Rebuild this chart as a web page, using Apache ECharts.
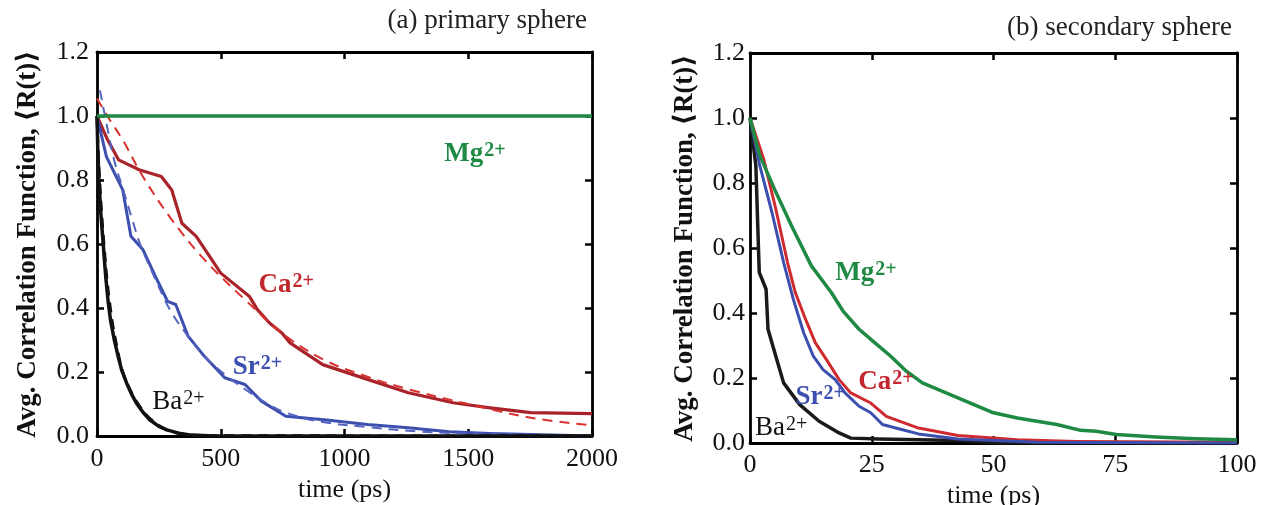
<!DOCTYPE html>
<html>
<head>
<meta charset="utf-8">
<script src="https://cdn.jsdelivr.net/npm/echarts@6/dist/echarts.min.js"></script>
<style>
  html, body { margin: 0; padding: 0; background: #fff; }
  #chart { width: 1262px; height: 505px; }
</style>
</head>
<body>
<div id="chart"></div>
<script>
// ---- (a) primary hydration sphere: [time ps, <R(t)>] ----
const mgPrimary = [[0, 1.0], [500, 1.0], [1000, 1.0], [1500, 1.0], [2000, 1.0]];
const caPrimary = [[0, 1.0], [40, 0.93], [87, 0.863], [170, 0.832], [260, 0.811], [302, 0.769], [343, 0.665], [401, 0.624],
  [500, 0.509], [615, 0.437], [648, 0.395], [697, 0.353], [747, 0.322], [780, 0.291], [912, 0.223],
  [1093, 0.177], [1258, 0.135], [1439, 0.104], [1588, 0.088], [1753, 0.073], [2000, 0.070]];
const caPrimaryFit = [[0, 1.055], [50, 0.99], [104, 0.925], [186, 0.81], [302, 0.676], [434, 0.551], [598, 0.426],
  [763, 0.312], [928, 0.234], [1093, 0.185], [1258, 0.146], [1505, 0.099], [1753, 0.057], [2000, 0.033]];
const srPrimary = [[0, 1.0], [38, 0.873], [104, 0.769], [137, 0.624], [186, 0.582], [236, 0.499], [285, 0.421],
  [318, 0.411], [368, 0.312], [434, 0.249], [516, 0.182], [598, 0.161], [664, 0.109], [763, 0.062],
  [928, 0.050], [1093, 0.036], [1258, 0.026], [1423, 0.0135], [1588, 0.008], [2000, 0.0]];
const srPrimaryFit = [[12, 1.08], [40, 0.97], [70, 0.86], [106, 0.769], [147, 0.665], [174, 0.60], [230, 0.50],
  [295, 0.394], [360, 0.32], [434, 0.249], [520, 0.19], [598, 0.146], [680, 0.105], [763, 0.073],
  [900, 0.045], [1093, 0.028], [1300, 0.014], [1600, 0.006], [2000, 0.0]];
const baPrimary = [[0, 1.0], [3, 0.9], [8, 0.8], [15, 0.7], [25, 0.6], [35, 0.5], [45, 0.42], [55, 0.36], [70, 0.3],
  [85, 0.25], [100, 0.205], [120, 0.165], [140, 0.13], [160, 0.102], [185, 0.075], [214, 0.05], [250, 0.03],
  [282, 0.019], [330, 0.009], [376, 0.003], [450, 0.001], [600, 0.0], [2000, 0.0]];
const baPrimaryFit = [[0, 1.0], [5, 0.88], [12, 0.78], [20, 0.68], [30, 0.58], [40, 0.49], [52, 0.41], [65, 0.34],
  [80, 0.28], [100, 0.21], [130, 0.15], [170, 0.095], [220, 0.05], [280, 0.02], [350, 0.006], [450, 0.001], [2000, 0.0]];

// ---- (b) secondary hydration sphere: [time ps, <R(t)>] ----
const mgSecondary = [[0, 1.0], [2, 0.885], [5.3, 0.772], [8.5, 0.669], [12.6, 0.545], [16.7, 0.463], [19.1, 0.406],
  [22.4, 0.35], [25.6, 0.309], [28.9, 0.267], [32.1, 0.221], [35.4, 0.185], [42.7, 0.139], [50, 0.093],
  [54.9, 0.077], [63, 0.057], [67.9, 0.039], [71.1, 0.036], [75.2, 0.026], [83.3, 0.0185], [91.5, 0.013], [100, 0.010]];
const caSecondary = [[0, 1.0], [2.8, 0.874], [5.3, 0.72], [7.7, 0.556], [9.3, 0.463], [11.4, 0.381], [13.4, 0.309],
  [15.9, 0.252], [18.3, 0.195], [20.7, 0.154], [24.8, 0.123], [28, 0.082], [34.6, 0.046], [42.7, 0.023],
  [54.9, 0.010], [67, 0.005], [100, 0.002]];
const srSecondary = [[0, 1.0], [2, 0.854], [4.5, 0.71], [6.9, 0.556], [8.9, 0.442], [11, 0.34], [13, 0.267],
  [15, 0.226], [17.5, 0.195], [19.5, 0.154], [22.4, 0.113], [24.8, 0.093], [27.2, 0.057], [31.3, 0.041],
  [34.6, 0.028], [42.7, 0.012], [59, 0.002], [100, 0.0]];
const baSecondary = [[0, 1.0], [1.2, 0.854], [1.9, 0.525], [3.3, 0.473], [3.7, 0.35], [5.3, 0.267], [6.9, 0.185],
  [10.2, 0.118], [14.2, 0.067], [18.3, 0.031], [20.7, 0.015], [26.4, 0.012], [42.7, 0.008], [50.8, 0.0], [100, 0.0]];

// ---- ion labels: [time, value] anchor and text ----
const ionNames = ['Mg', 'Ca', 'Sr', 'Ba'];
const labelPosPrimary = [[1527, 0.88], [764, 0.472], [648, 0.216], [329, 0.106]];
const labelPosSecondary = [[23.8, 0.523], [27.9, 0.188], [14.4, 0.142], [6.4, 0.046]];

// ---- axis ticks ----
const xTicksPrimary = { min: 0, max: 2000, interval: 500 };
const xTicksSecondary = { min: 0, max: 100, interval: 25 };
const yTicks = { min: 0, max: 1.2, interval: 0.2 };

const panelTitles = ['(a) primary sphere', '(b) secondary sphere'];
const yName = 'Avg. Correlation Function, \u27E8R(t)\u27E9';
const xName = 'time (ps)';

const SERIF = '"Liberation Serif", "DejaVu Serif", serif';
const COL = {
  mg: '#1f8a43', caDark: '#a8232a', caFit: '#d8322f', caB: '#cf2a2f',
  sr: '#3c4fae', srFit: '#5363bf', ba: '#111111'
};
const ionColors = [COL.mg, '#c1272d', COL.sr, '#111'];
const ionWeights = ['bold', 'bold', 'bold', 'normal'];

// fixed plot rectangles; labels may sit outside without shrinking the grid
const grids = [
  { left: 97, top: 52, width: 495, height: 384, containLabel: false, outerBoundsMode: 'none' },
  { left: 750, top: 53, width: 487, height: 390, containLabel: false, outerBoundsMode: 'none' }
];

function xAxisPair(gi, ticks, labelMargin, nameGap) {
  const common = {
    type: 'value', gridIndex: gi, min: ticks.min, max: ticks.max, interval: ticks.interval,
    axisLine: { show: true, onZero: false, lineStyle: { color: '#000', width: 2.8 } },
    axisTick: { show: true, inside: true, length: 7, lineStyle: { color: '#000', width: 2.5 } },
    splitLine: { show: false }
  };
  return [
    Object.assign({}, common, {
      position: 'bottom',
      axisLabel: { show: true, margin: labelMargin, color: '#111', fontFamily: SERIF, fontSize: 26,
        formatter: v => String(v) },
      name: xName, nameLocation: 'middle', nameGap: nameGap,
      nameTextStyle: { color: '#111', fontFamily: SERIF, fontSize: 26 }
    }),
    Object.assign({}, common, { position: 'top', axisLabel: { show: false } })
  ];
}

function yAxisPair(gi, labelMargin, nameGap) {
  const common = {
    type: 'value', gridIndex: gi, min: yTicks.min, max: yTicks.max, interval: yTicks.interval,
    axisLine: { show: true, onZero: false, lineStyle: { color: '#000', width: 2.8 } },
    axisTick: { show: true, inside: true, length: 7, lineStyle: { color: '#000', width: 2.5 } },
    splitLine: { show: false }
  };
  return [
    Object.assign({}, common, {
      position: 'left',
      axisLabel: { show: true, margin: labelMargin, color: '#111', fontFamily: SERIF, fontSize: 26,
        formatter: v => v.toFixed(1) },
      name: yName, nameLocation: 'middle', nameGap: nameGap, nameRotate: 90,
      nameTextStyle: { color: '#111', fontFamily: SERIF, fontSize: 27, fontWeight: 'bold' }
    }),
    Object.assign({}, common, { position: 'right', axisLabel: { show: false } })
  ];
}

function line(name, data, xi, yi, color, width, dashed, z) {
  return {
    name, type: 'line', xAxisIndex: xi, yAxisIndex: yi, data,
    showSymbol: false, symbol: 'none', smooth: dashed ? 0.35 : false,
    lineStyle: { color, width, type: dashed ? [10, 7] : 'solid', cap: 'butt', join: 'round' },
    z: z || 2, silent: true, animation: false, clip: true
  };
}

function ionLabels(pos, xi, yi, supSize) {
  return {
    type: 'scatter', xAxisIndex: xi, yAxisIndex: yi, symbolSize: 0, silent: true, animation: false, z: 10,
    itemStyle: { opacity: 1 },
    data: pos.map((p, i) => ({
      value: p,
      label: {
        show: true, position: 'inside', opacity: 1,
        formatter: '{b|' + ionNames[i] + '}{s|2+}',
        rich: {
          b: { fontFamily: SERIF, fontSize: 27, fontWeight: ionWeights[i], color: ionColors[i], verticalAlign: 'bottom', lineHeight: 27 },
          s: { fontFamily: SERIF, fontSize: supSize, fontWeight: ionWeights[i], color: ionColors[i], verticalAlign: 'top', lineHeight: 27, padding: [0, 0, 8, 1] }
        }
      }
    }))
  };
}

const chart = echarts.init(document.getElementById('chart'), null, { renderer: 'canvas' });
const xa = xAxisPair(0, xTicksPrimary, 10, 38).concat(xAxisPair(1, xTicksSecondary, 9, 37));
const ya = yAxisPair(0, 8, 55).concat(yAxisPair(1, 5, 51));

chart.setOption({
  animation: false,
  backgroundColor: '#fff',
  title: [
    { text: panelTitles[0], right: 1262 - 592, top: 2, textStyle: { fontFamily: SERIF, fontSize: 27, fontWeight: 'normal', color: '#222' } },
    { text: panelTitles[1], right: 1262 - 1237, top: 9, textStyle: { fontFamily: SERIF, fontSize: 27, fontWeight: 'normal', color: '#222' } }
  ],
  grid: grids,
  xAxis: xa,
  yAxis: ya,
  series: [
    // panel (a): simulated curves (solid) and fits (dashed)
    line('Ca fit', caPrimaryFit, 0, 0, COL.caFit, 2, true, 3),
    line('Sr fit', srPrimaryFit, 0, 0, COL.srFit, 2, true, 3),
    line('Ca', caPrimary, 0, 0, COL.caDark, 3.2, false, 2),
    line('Sr', srPrimary, 0, 0, COL.sr, 3, false, 2),
    line('Ba fit', baPrimaryFit, 0, 0, COL.ba, 3, true, 4),
    line('Ba', baPrimary, 0, 0, COL.ba, 3.5, false, 4),
    line('Mg', mgPrimary, 0, 0, COL.mg, 3.5, false, 5),
    ionLabels(labelPosPrimary, 0, 0, 20),
    // panel (b)
    line('Ba', baSecondary, 2, 2, '#1a1a1a', 3.5, false, 2),
    line('Ca', caSecondary, 2, 2, COL.caB, 3, false, 3),
    line('Sr', srSecondary, 2, 2, COL.sr, 3, false, 4),
    line('Mg', mgSecondary, 2, 2, COL.mg, 3.5, false, 5),
    ionLabels(labelPosSecondary, 2, 2, 20)
  ]
});
</script>
</body>
</html>
